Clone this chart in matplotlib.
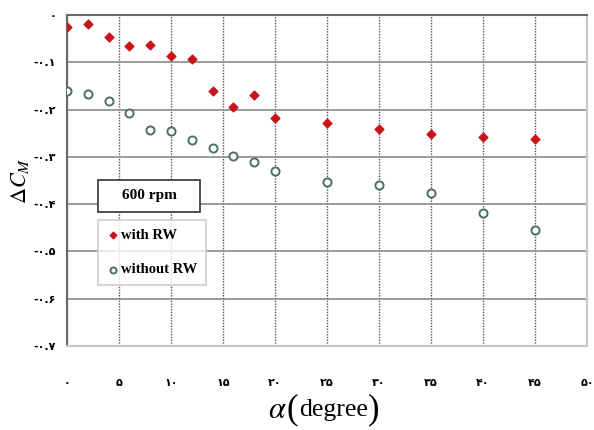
import matplotlib
matplotlib.use("Agg")
import matplotlib.pyplot as plt
from matplotlib.patches import Rectangle

# angle of attack (deg) and moment coefficient change
alpha = [0, 2, 4, 6, 8, 10, 12, 14, 16, 18, 20, 25, 30, 35, 40, 45]
dcm_with_rw = [-0.026, -0.018, -0.046, -0.066, -0.063, -0.087, -0.092, -0.161,
               -0.194, -0.170, -0.217, -0.228, -0.242, -0.251, -0.259, -0.263]
dcm_without_rw = [-0.161, -0.166, -0.181, -0.207, -0.243, -0.245, -0.265, -0.281,
                  -0.298, -0.311, -0.330, -0.353, -0.359, -0.376, -0.419, -0.455]
x_ticks = [0, 5, 10, 15, 20, 25, 30, 35, 40, 45, 50]
y_ticks = [0, -0.1, -0.2, -0.3, -0.4, -0.5, -0.6, -0.7]

fa = str.maketrans("0123456789", "۰۱۲۳۴۵۶۷۸۹")

def to_fa(v):
    if v == 0:
        return "۰"
    s = f"{v:.1f}" if isinstance(v, float) else str(v)
    return s.translate(fa)

plt.rcParams["mathtext.fontset"] = "stix"

fig = plt.figure(figsize=(5.94, 4.30), dpi=100)
ax = fig.add_axes([0.1128, 0.1953, 0.8754, 0.7698])

ax.scatter(alpha, dcm_with_rw, marker="D", s=20, color="#c8141c", zorder=3,
           label="with RW")
ax.scatter(alpha, dcm_without_rw, marker="o", s=34, facecolor="white",
           edgecolor="#4d6f66", linewidth=1.4, zorder=3, label="without RW")

ax.set_xlim(0, 50)
ax.set_ylim(-0.7, 0)
ax.set_xticks(x_ticks)
ax.set_yticks(y_ticks)
ax.set_xticklabels([to_fa(v) for v in x_ticks], family="DejaVu Sans",
                   fontweight="bold", fontsize=8)
ax.set_yticklabels([to_fa(v) for v in y_ticks], family="DejaVu Sans",
                   fontweight="bold", fontsize=8)
ax.tick_params(axis="both", length=0)
ax.tick_params(axis="x", pad=23)
ax.tick_params(axis="y", pad=8)

ax.grid(axis="y", color="#8a8a8a", linewidth=1.2, linestyle="-")
ax.grid(axis="x", color="#555555", linewidth=1.0, linestyle=(0, (1, 1)))
ax.set_axisbelow(True)

ax.spines["top"].set_color("#6a6a6a")
ax.spines["left"].set_color("#6a6a6a")
ax.spines["right"].set_color("#c8c8c8")
ax.spines["bottom"].set_color("#c8c8c8")
for s in ax.spines.values():
    s.set_linewidth(1.5)

# x label: italic alpha, then "degree" in tall parentheses
fig.text(277 / 594, 1 - 410 / 430, r"$\alpha$", fontsize=22, ha="center", va="center")
fig.text(292 / 594, 1 - 410 / 430, "(", family="Liberation Serif", fontsize=25,
         ha="center", va="center")
fig.text(334 / 594, 1 - 410 / 430, "degree", family="Liberation Serif", fontsize=18.5,
         ha="center", va="center")
fig.text(374 / 594, 1 - 410 / 430, ")", family="Liberation Serif", fontsize=25,
         ha="center", va="center")
ax.set_ylabel(r"$\Delta C_M$", fontsize=16, labelpad=2)

# "600 rpm" label box
fig.patches.append(Rectangle((98 / 594, 1 - 212 / 430), 102 / 594, 32 / 430,
                             transform=fig.transFigure, facecolor="white",
                             edgecolor="#333333", linewidth=1.2, zorder=5))
fig.text(149 / 594, 1 - 196 / 430, "600 rpm", ha="center", va="center",
         family="Liberation Serif", fontweight="bold", fontsize=11, zorder=6)

leg = ax.legend(loc="upper left", bbox_to_anchor=((98 - 67) / 520, (346 - 220) / 331),
                prop={"family": "Liberation Serif", "weight": "bold", "size": 10.5},
                frameon=True, fancybox=False, handletextpad=0.15, borderpad=0.6,
                labelspacing=1.45, handlelength=0.8, borderaxespad=0, markerscale=0.75)
leg.get_frame().set_edgecolor("#cccccc")
leg.get_frame().set_linewidth(1.5)

fig.savefig("out.png", dpi=100)
